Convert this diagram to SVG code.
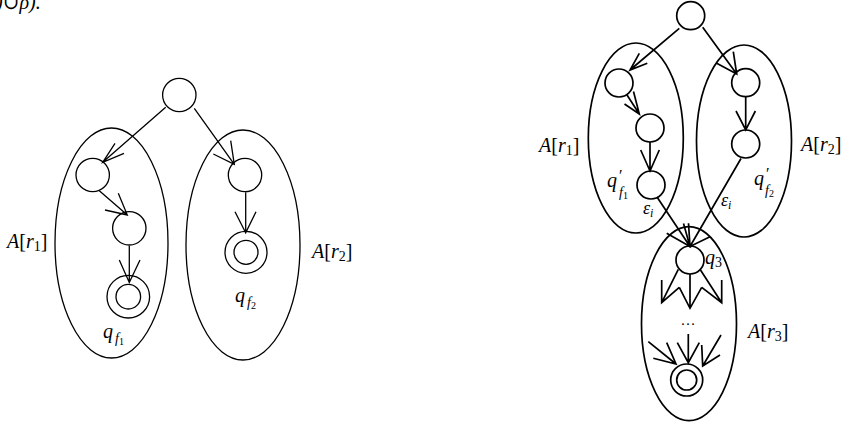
<svg xmlns="http://www.w3.org/2000/svg" width="845" height="424" viewBox="0 0 845 424">
<style>
.n{fill:none;stroke:#000;stroke-width:1.3}
.n2{fill:none;stroke:#000;stroke-width:1.7}
.e{fill:none;stroke:#000;stroke-width:1.3;stroke-linejoin:miter}
.e2{fill:none;stroke:#000;stroke-width:1.7;stroke-linejoin:miter}
.t{font-family:'Liberation Serif','Times New Roman','DejaVu Serif',serif;font-size:20px;fill:#000}
.i{font-style:italic}
</style>
<rect width="845" height="424" fill="#fff"/>
<g class="t">
<text x="-4" y="9" class="i">)∪ρ).</text>
</g>

<!-- left diagram -->
<g id="L-A1"><ellipse class="n" cx="111.5" cy="243" rx="56.5" ry="115"/></g>
<g id="L-A2"><ellipse class="n" cx="243" cy="245" rx="57" ry="115"/></g>
<g id="L-top"><circle class="n" cx="179.3" cy="95" r="16.7"/></g>
<g id="L-a1"><circle class="n" cx="92.7" cy="175" r="16.7"/></g>
<g id="L-a2"><circle class="n" cx="129.3" cy="228.3" r="16.7"/></g>
<g id="L-qf1"><circle class="n" cx="128.3" cy="296.7" r="21.3"/><circle class="n" cx="128.3" cy="296.7" r="12.3"/></g>
<g id="L-b1"><circle class="n" cx="245" cy="175" r="16.7"/></g>
<g id="L-qf2"><circle class="n" cx="246" cy="252.3" r="21"/><circle class="n" cx="246" cy="252.3" r="12"/></g>
<g id="L-connectors">
<path class="e" d="M165.7,107.3 L102.7,162.3 M115,143.3 L102.7,162.3 L124,153.3"/>
<path class="e" d="M194.3,108.3 L234.3,164.3 M230.7,140.7 L234.3,164.3 L213.3,154"/>
<path class="e" d="M99.3,190.7 L127.3,215 M118.3,193.3 L127.3,215 L105,210"/>
<path class="e" d="M129.3,245.7 L129.3,282.5 M119.3,260 L129.3,282.5 L140,260"/>
<path class="e" d="M245.7,192.3 L245.7,232.7 M235,211.7 L245.7,232.7 L256,211.7"/>
</g>
<g class="t">
<text x="7" y="248"><tspan class="i">A</tspan>[<tspan class="i">r</tspan><tspan font-size="14" dy="3">1</tspan><tspan dy="-3">]</tspan></text>
<text x="312" y="258"><tspan class="i">A</tspan>[<tspan class="i">r</tspan><tspan font-size="14" dy="3">2</tspan><tspan dy="-3">]</tspan></text>
<text x="103" y="338"><tspan class="i">q</tspan><tspan class="i" font-size="14" dx="2" dy="5">f</tspan><tspan font-size="10" dy="2">1</tspan></text>
<text x="235" y="302"><tspan class="i">q</tspan><tspan class="i" font-size="14" dx="2" dy="5">f</tspan><tspan font-size="10" dy="2">2</tspan></text>
</g>

<!-- right diagram -->
<g id="R-A1"><ellipse class="n2" cx="635.8" cy="138" rx="47.5" ry="95"/></g>
<g id="R-A2"><ellipse class="n2" cx="744" cy="141" rx="47.5" ry="96"/></g>
<g id="R-A3"><ellipse class="n2" cx="689" cy="323.7" rx="47.5" ry="97"/></g>
<g id="R-top"><circle class="n2" cx="690.7" cy="15.7" r="14"/></g>
<g id="R-a1"><circle class="n2" cx="619" cy="83" r="14"/></g>
<g id="R-a2"><circle class="n2" cx="650" cy="128" r="14"/></g>
<g id="R-qf1"><circle class="n2" cx="651" cy="185" r="14"/></g>
<g id="R-b1"><circle class="n2" cx="745.7" cy="82.7" r="14"/></g>
<g id="R-qf2"><circle class="n2" cx="745.7" cy="144" r="14"/></g>
<g id="R-q3"><circle class="n2" cx="690" cy="260" r="14"/></g>
<g id="R-final"><circle class="n2" cx="686.7" cy="380" r="16"/><circle class="n2" cx="686.7" cy="380" r="10"/></g>
<g id="R-connectors">
<path class="e2" d="M679.3,28.3 L630,70 M639.3,53.3 L630,70 L647.3,63.3"/>
<path class="e2" d="M702.7,27.3 L736.7,74 M733.3,51.7 L736.7,74 L716.7,63.3"/>
<path class="e2" d="M627,95 L639.3,114 M624.5,104 L639.3,114 L633.5,91.5"/>
<path class="e2" d="M650,142 L650,171 M640.7,150 L650,171 L659.3,150"/>
<path class="e2" d="M745.7,97 L745.7,130 M736,111 L745.7,130 L755.4,111"/>
<path class="e2" d="M657,197 L690,246.5 M683.5,223.5 L690,246.5 L666.7,233.3"/>
<path class="e2" d="M741,158.5 L690,246.5 M710,236.7 L690,246.5 L688.5,223.3"/>
<path class="e2" d="M678.3,269.3 L661.7,302.7 M661.7,280 L661.7,302.7 L679.3,287.3"/>
<path class="e2" d="M690,274 L690,308.3 M679.3,287.3 L690,308.3 L701.7,287.3"/>
<path class="e2" d="M700,269.3 L721.7,302.7 M721.7,280 L721.7,302.7 L701.7,287.3"/>
<path class="e2" d="M648.3,341.7 L676,364 M653.3,358.3 L676,364 L666.7,342.7"/>
<path class="e2" d="M688.3,334 L688.3,362.7 M677.3,342.7 L688.3,362.7 L699.3,342.7"/>
<path class="e2" d="M721,335 L702.7,366 M701.7,345 L702.7,366 L720,355"/>
</g>
<g class="t">
<text x="539" y="152"><tspan class="i">A</tspan>[<tspan class="i">r</tspan><tspan font-size="14" dy="3">1</tspan><tspan dy="-3">]</tspan></text>
<text x="801" y="151"><tspan class="i">A</tspan>[<tspan class="i">r</tspan><tspan font-size="14" dy="3">2</tspan><tspan dy="-3">]</tspan></text>
<text x="748" y="338"><tspan class="i">A</tspan>[<tspan class="i">r</tspan><tspan font-size="14" dy="3">3</tspan><tspan dy="-3">]</tspan></text>
<text x="607" y="187" class="i">q</text><text x="619" y="181" font-size="16">′</text><text x="619" y="197"><tspan class="i" font-size="14">f</tspan><tspan font-size="10" dy="2">1</tspan></text>
<text x="754" y="185" class="i">q</text><text x="766" y="179" font-size="16">′</text><text x="765" y="195"><tspan class="i" font-size="14">f</tspan><tspan font-size="10" dy="2">2</tspan></text>
<text x="643" y="214"><tspan class="i" font-size="18">ε</tspan><tspan class="i" font-size="12" dy="3">i</tspan></text>
<text x="721" y="206"><tspan class="i" font-size="18">ε</tspan><tspan class="i" font-size="12" dy="3">i</tspan></text>
<text x="705" y="264"><tspan class="i">q</tspan><tspan font-size="14" dy="3">3</tspan></text>
<text x="688" y="325" font-size="15" text-anchor="middle">…</text>
</g>
</svg>
